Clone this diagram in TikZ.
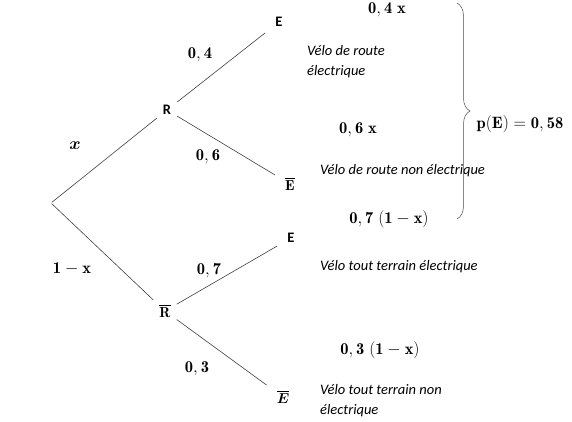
\documentclass[tikz,border=0pt]{standalone}
\usepackage{amsmath}
\usepackage{fontspec}
\setsansfont{Carlito}
\usepackage{tikz}
\usetikzlibrary{decorations.pathreplacing}

\begin{document}
\begin{tikzpicture}[
    x=1pt, y=-1pt,
    every node/.style={font=\fontsize{14}{16}\selectfont},
    event/.style={font=\sffamily\bfseries\fontsize{14.5}{16}\selectfont, inner sep=6pt},
    prob/.style={font=\fontsize{16.5}{18}\selectfont},
    desc/.style={font=\sffamily\itshape\fontsize{14.5}{20}\selectfont,
                 anchor=west, align=left, inner sep=0pt},
    branch/.style={black!75, line width=0.6pt},
]
\useasboundingbox (0,0) rectangle (572,421);

% Tree
\node[inner sep=0pt] (root) at (51,203) {};
\node[event] (r) at (167,110) {R};
\node[event] (rb) at (165,311) {$\overline{\mathbf{R}}$};
\node[event, inner sep=10pt] (e1) at (279,22) {E};
\node[event, inner sep=10pt] (eb1) at (290,184) {$\overline{\mathbf{E}}$};
\node[event, inner sep=10pt] (e2) at (291,238) {E};
\node[event, inner sep=10pt] (eb2) at (283,397) {$\overline{\boldsymbol{E}}$};

\draw[branch] (root) -- (r);
\draw[branch] (root) -- (rb);
\draw[branch] (r) -- (e1);
\draw[branch] (r) -- (eb1);
\draw[branch] (rb) -- (e2);
\draw[branch] (rb) -- (eb2);

% Branch weights
\node[prob] (px) at (75,146) {$\boldsymbol{x}$};
\node[prob] (p1x) at (72,269) {$\mathbf{1-x}$};
\node[prob] (p04) at (200,55) {$\mathbf{0,4}$};
\node[prob] (p06) at (208,157) {$\mathbf{0,6}$};
\node[prob] (p07) at (209,271) {$\mathbf{0,7}$};
\node[prob] (p03) at (197,369) {$\mathbf{0,3}$};

% Leaves
\node[prob] (l1) at (387,10) {$\mathbf{0,4\;x}$};
\node[desc] (d1) at (307,62) {V\'elo de route\\\'electrique};
\node[prob] (l2) at (358,130) {$\mathbf{0,6\;x}$};
\node[desc] (d2) at (320,171) {V\'elo de route non \'electrique};
\node[prob] (l3) at (389,219) {$\mathbf{0,7\;(1-x)}$};
\node[desc] (d3) at (320,267) {V\'elo tout terrain \'electrique};
\node[prob] (l4) at (380,350) {$\mathbf{0,3\;(1-x)}$};
\node[desc] (d4) at (320,401) {V\'elo tout terrain non\\\'electrique};

% Brace
\coordinate (btop) at (457,3);
\coordinate (bbot) at (457,219);
\draw[black!70, line width=0.5pt,
      decorate, decoration={brace, amplitude=13pt}] (btop) -- (bbot);
\node[prob] (pe) at (520,124) {$\mathbf{p(E)=0,58}$};
\end{tikzpicture}
\end{document}
